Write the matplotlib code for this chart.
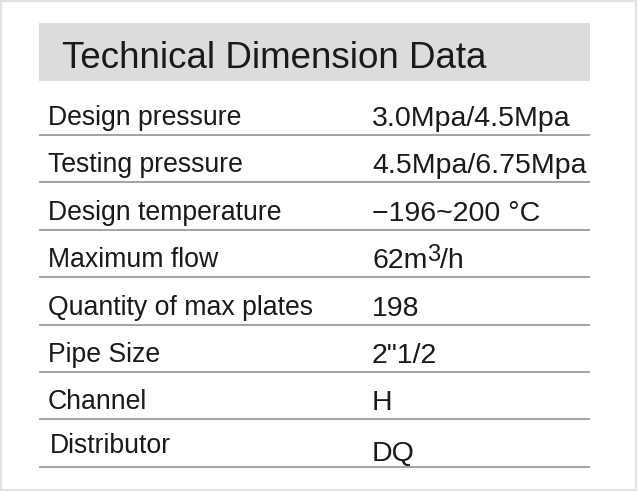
import matplotlib
matplotlib.use("Agg")
import matplotlib.pyplot as plt
from matplotlib.patches import Rectangle

title = "Technical Dimension Data"
labels = [
    "Design pressure",
    "Testing pressure",
    "Design temperature",
    "Maximum flow",
    "Quantity of max plates",
    "Pipe Size",
    "Channel",
    "Distributor",
]
# a value given as a tuple is (base, superscript, rest)
values = [
    "3.0Mpa/4.5Mpa",
    "4.5Mpa/6.75Mpa",
    "\u2212196~200 \u00b0C",
    ("62m", "3", "/h"),
    "198",
    "2\"1/2",
    "H",
    "DQ",
]

plt.rcParams["font.family"] = ["Liberation Sans", "DejaVu Sans"]

W, H = 637, 491
fig = plt.figure(figsize=(W / 100, H / 100), dpi=100)
ax = fig.add_axes([0, 0, 1, 1])
ax.set_xlim(0, W)
ax.set_ylim(H, 0)
ax.axis("off")
renderer = fig.canvas.get_renderer()

ink = "#1a1a1a"


def px_width(txt):
    bb = txt.get_window_extent(renderer=renderer)
    return bb.width


# outer frame
ax.add_patch(Rectangle((0.5, 0.5), W - 2, H - 2, fill=False,
                       edgecolor="#e2e2e2", linewidth=1.6))

# header band
ax.add_patch(Rectangle((39, 23), 551, 58, facecolor="#dcdcdc", edgecolor="none"))
ax.text(62, 68, title, fontsize=26.5, color=ink, va="baseline", ha="left")

row_top = 135
row_step = 47.4
for i, (lab, val) in enumerate(zip(labels, values)):
    line_y = row_top + i * row_step
    ax.plot([39, 590], [line_y, line_y], color="#8a8a8a", linewidth=1.1,
            solid_capstyle="butt")
    lab_y = line_y - 10
    val_y = line_y - 9
    lab_x = 48
    if i == len(labels) - 1:
        lab_y = line_y - 14
        val_y = line_y - 6
        lab_x = 50
    ax.text(lab_x, lab_y, lab, fontsize=19.2, color=ink, va="baseline", ha="left")
    if isinstance(val, tuple):
        base, sup, rest = val
        t = ax.text(372, val_y, base, fontsize=20.5, color=ink,
                    va="baseline", ha="left")
        x = 372 + px_width(t)
        s = ax.text(x, val_y - 7, sup, fontsize=17, color=ink,
                    va="baseline", ha="left")
        x += px_width(s)
        ax.text(x, val_y, rest, fontsize=20.5, color=ink,
                va="baseline", ha="left")
    else:
        ax.text(372, val_y, val, fontsize=20.5, color=ink,
                va="baseline", ha="left")

fig.savefig("out.png", dpi=100, facecolor="white")
